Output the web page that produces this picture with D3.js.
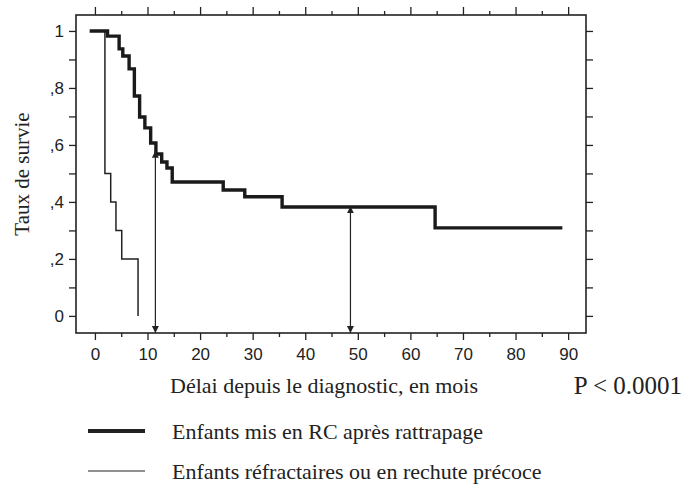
<!DOCTYPE html>
<html>
<head>
<meta charset="utf-8">
<script src="https://cdn.jsdelivr.net/npm/d3@7"></script>
<style>
  body { margin: 0; background: #fff; }
  .tick line { stroke: #222; stroke-width: 1.3; }
  .tick text { font-family: "Liberation Sans", Arial, sans-serif; font-size: 17px; fill: #222; }
  text.serif { font-family: "Liberation Serif", "Times New Roman", serif; fill: #222; }
</style>
</head>
<body>
<svg id="chart" width="686" height="503"></svg>
<script>
// survival curve, children in CR after salvage (thick line)
const rcTimes = [-1, 2.4, 4.6, 5.3, 6.5, 7.5, 8.5, 9.5, 10.6, 11.6, 12.7, 13.7, 14.7, 24.4, 28.5, 35.6, 64.7, 88.9];
const rcSurv  = [1, .982, .937, .912, .867, .772, .698, .66, .607, .568, .54, .519, .47, .442, .418, .382, .309, .309];

// refractory or early relapse (thin line)
const refTimes = [0, 1.9, 3.0, 4.0, 5.1, 8.2];
const refSurv  = [1, .5, .4, .3, .2, 0];

// the two double arrows (median marks)
const arrowTimes = [11.5, 48.6];
const arrowTops  = [0.58, 0.385];

const xMajor = [0, 10, 20, 30, 40, 50, 60, 70, 80, 90];
const xMinor = [5, 15, 25, 35, 45, 55, 65, 75, 85];
const yTicks = [0, .1, .2, .3, .4, .5, .6, .7, .8, .9, 1];
const yTickLabels = ["0", "", ",2", "", ",4", "", ",6", "", ",8", "", "1"];

const legendLabels = ["Enfants mis en RC après rattrapage", "Enfants réfractaires ou en rechute précoce"];

const SERIF = "'Liberation Serif', 'Times New Roman', serif";

const svg = d3.select("#chart");
const frame = {left: 76, right: 586, top: 15, bottom: 333};

const x = d3.scaleLinear().domain([-3.6, 93.4]).range([frame.left, frame.right]);
const y = d3.scaleLinear().domain([-0.06, 1.056]).range([frame.bottom, frame.top]);

// axes, domain path removed, frame drawn after
function axisG(axis, tx, ty) {
    const g = svg.append("g").attr("transform", `translate(${tx},${ty})`).call(axis);
    g.select(".domain").remove();
    return g;
}

axisG(d3.axisBottom(x).tickValues(xMajor).tickSize(7).tickPadding(8), 0, frame.bottom);
axisG(d3.axisBottom(x).tickValues(xMinor).tickSize(4).tickFormat(""), 0, frame.bottom);
axisG(d3.axisTop(x).tickValues(xMajor).tickSize(8).tickFormat(""), 0, frame.top);
axisG(d3.axisTop(x).tickValues(xMinor).tickSize(4).tickFormat(""), 0, frame.top);
axisG(d3.axisLeft(y).tickValues(yTicks).tickSize(7).tickPadding(5)
    .tickFormat((d, i) => yTickLabels[i]), frame.left, 0);
axisG(d3.axisRight(y).tickValues(yTicks).tickSize(7).tickFormat(""), frame.right, 0);

svg.append("rect")
    .attr("x", frame.left).attr("y", frame.top)
    .attr("width", frame.right - frame.left)
    .attr("height", frame.bottom - frame.top)
    .attr("fill", "none").attr("stroke", "#222").attr("stroke-width", 1.6);

// curves
const line = d3.line()
    .x(d => x(d[0]))
    .y(d => y(d[1]))
    .curve(d3.curveStepAfter);

svg.append("path")
    .datum(d3.zip(refTimes, refSurv))
    .attr("d", line)
    .attr("fill", "none").attr("stroke", "#222").attr("stroke-width", 1.5);

svg.append("path")
    .datum(d3.zip(rcTimes, rcSurv))
    .attr("d", line)
    .attr("fill", "none").attr("stroke", "#1a1a1a").attr("stroke-width", 3.4)
    .attr("stroke-linejoin", "miter");

// arrow heads
svg.append("defs").append("marker")
    .attr("id", "head")
    .attr("viewBox", "0 0 10 10")
    .attr("refX", 10).attr("refY", 5)
    .attr("markerWidth", 7).attr("markerHeight", 8)
    .attr("markerUnits", "userSpaceOnUse")
    .attr("orient", "auto-start-reverse")
    .append("path").attr("d", "M0,0L10,5L0,10Z").attr("fill", "#222");

svg.selectAll(".arrow")
    .data(d3.zip(arrowTimes, arrowTops))
    .join("line")
    .attr("class", "arrow")
    .attr("x1", d => x(d[0])).attr("x2", d => x(d[0]))
    .attr("y1", d => y(d[1])).attr("y2", frame.bottom)
    .attr("stroke", "#222").attr("stroke-width", 1.2)
    .attr("marker-start", "url(#head)")
    .attr("marker-end", "url(#head)");

// titles
svg.append("text").attr("class", "serif")
    .attr("font-family", SERIF)
    .attr("transform", `translate(29,${(frame.top + frame.bottom) / 2}) rotate(-90)`)
    .attr("text-anchor", "middle")
    .attr("font-size", 21)
    .text("Taux de survie");

svg.append("text").attr("class", "serif")
    .attr("font-family", SERIF)
    .attr("x", 324).attr("y", 393)
    .attr("text-anchor", "middle")
    .attr("font-size", 22)
    .text("Délai depuis le diagnostic, en mois");

svg.append("text").attr("class", "serif")
    .attr("font-family", SERIF)
    .attr("x", 682).attr("y", 394)
    .attr("text-anchor", "end")
    .attr("font-size", 25)
    .text("P < 0.0001");

// legend
const legendY = [431, 471];
const legendWidth = [4, 1.2];
const lg = svg.selectAll(".legend")
    .data(legendLabels)
    .join("g")
    .attr("class", "legend")
    .attr("transform", (d, i) => `translate(88,${legendY[i]})`);
lg.append("line")
    .attr("x1", 0).attr("x2", 57)
    .attr("stroke", "#222")
    .attr("stroke-width", (d, i) => legendWidth[i]);
lg.append("text").attr("class", "serif")
    .attr("font-family", SERIF)
    .attr("x", 84).attr("dy", "0.35em")
    .attr("font-size", 22)
    .text(d => d);
</script>
</body>
</html>
